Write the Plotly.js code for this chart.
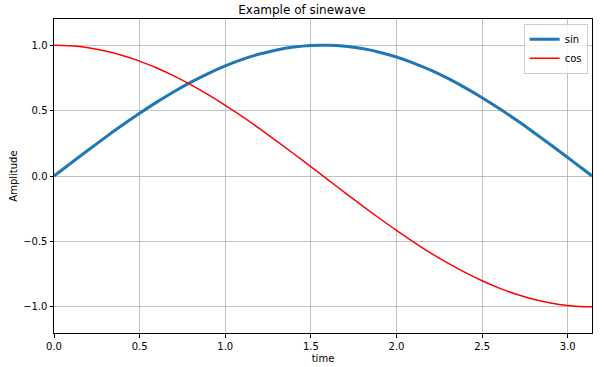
<!DOCTYPE html>
<html><head><meta charset="utf-8">
<script src="https://cdn.plot.ly/plotly-3.0.1.min.js"></script>
<style>html,body{margin:0;padding:0;background:#fff}#c{width:604px;height:367px}</style>
</head><body><div id="c"></div>
<script>
const time = [0,0.1,0.2,0.3,0.4,0.5,0.6,0.7,0.8,0.9,1.0,1.1,1.2,1.3,1.4,1.5,1.6,1.7,1.8,1.9,2.0,2.1,2.2,2.3,2.4,2.5,2.6,2.7,2.8,2.9,3.0,3.1,3.1416];
const sinVals = [0,0.0998,0.1987,0.2955,0.3894,0.4794,0.5646,0.6442,0.7174,0.7833,0.8415,0.8912,0.9320,0.9636,0.9854,0.9975,0.9996,0.9917,0.9738,0.9463,0.9093,0.8632,0.8085,0.7457,0.6755,0.5985,0.5155,0.4274,0.3350,0.2392,0.1411,0.0416,0.0];
const cosVals = [1.0,0.995,0.980,0.955,0.921,0.878,0.825,0.765,0.697,0.622,0.540,0.454,0.362,0.267,0.170,0.071,-0.029,-0.129,-0.227,-0.323,-0.416,-0.505,-0.589,-0.666,-0.737,-0.801,-0.857,-0.904,-0.942,-0.971,-0.990,-0.999,-1.0];
const xTicks = [0,0.5,1.0,1.5,2.0,2.5,3.0];
const xTickText = ['0.0','0.5','1.0','1.5','2.0','2.5','3.0'];
const yTicks = [-1.0,-0.5,0,0.5,1.0];
const yTickText = ['\u22121.0','\u22120.5','0.0','0.5','1.0'];

const font = {family:'DejaVu Sans', size:10, color:'#000'};
const data = [
  {x:time, y:sinVals, name:'sin', type:'scatter', mode:'lines', line:{color:'#1f77b4', width:3, shape:'spline'}},
  {x:time, y:cosVals, name:'cos', type:'scatter', mode:'lines', line:{color:'#ff0000', width:1.5, shape:'spline'}}
];
const axisCommon = {showline:true, mirror:true, linecolor:'#000', linewidth:1, ticks:'outside', ticklen:3.5, tickcolor:'#000', showgrid:true, gridcolor:'#b0b0b0', gridwidth:0.8, zeroline:false, tickfont:font};
const layout = {
  width:604, height:367,
  margin:{l:54, r:12, t:19, b:34},
  paper_bgcolor:'#fff', plot_bgcolor:'#fff',
  font:font,
  title:{text:'Example of sinewave', font:{family:'DejaVu Sans', size:12, color:'#000'}, x:0.5, xanchor:'center', y:1-10/367, yanchor:'middle'},
  xaxis:Object.assign({}, axisCommon, {range:[0,Math.PI], tickvals:xTicks, ticktext:xTickText, title:{text:'time', font:font, standoff:4}}),
  yaxis:Object.assign({}, axisCommon, {range:[-1.2,1.2], tickvals:yTicks, ticktext:yTickText, title:{text:'Amplitude', font:font, standoff:3}}),
  showlegend:true,
  legend:{x:0.992, xanchor:'right', y:0.985, yanchor:'top', bgcolor:'rgba(255,255,255,0.8)', bordercolor:'#ccc', borderwidth:1, font:font, tracegroupgap:0, itemwidth:30}
};
Plotly.newPlot('c', data, layout, {displayModeBar:false, staticPlot:true});
</script></body></html>
